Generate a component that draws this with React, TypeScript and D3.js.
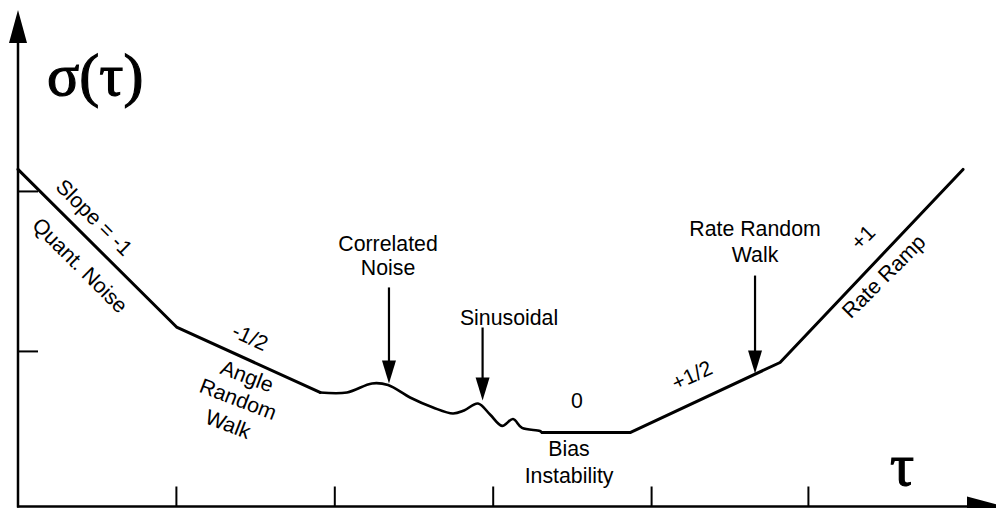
import React from "react";
import * as d3 from "d3";

// Allan deviation sketch, units = decades of tau (x) and sigma (y)
const leftSegment: [number, number][] = [
  [0, 2.128],
  [1.001, 1.133],
  [1.907, 0.72],
];
const waveSegment: [number, number][] = [
  [1.907, 0.72],
  [2.077, 0.72],
  [2.235, 0.777],
  [2.336, 0.767],
  [2.475, 0.688],
  [2.62, 0.625],
  [2.746, 0.587],
  [2.816, 0.606],
  [2.904, 0.65],
  [2.98, 0.581],
  [3.056, 0.509],
  [3.125, 0.552],
  [3.182, 0.496],
  [3.295, 0.477],
  [3.308, 0.467],
];
const rightSegment: [number, number][] = [
  [3.308, 0.467],
  [3.864, 0.467],
  [4.811, 0.909],
  [5.966, 2.128],
];
const xTicks = [1, 2, 3, 4, 4.99];
const yTicks = [0.979, 1.989];

// annotation arrows: x, top of shaft, tip
const arrows = [
  { x: 2.342, top: 1.383, tip: 0.777 },
  { x: 2.933, top: 1.13, tip: 0.669 },
  { x: 4.653, top: 1.458, tip: 0.84 },
];

// labels: text, centre (x,y in units), rotation in degrees
const labels = [
  { t: "Slope = -1", x: 0.48, y: 1.824, r: 45 },
  { t: "Quant. Noise", x: 0.391, y: 1.521, r: 45 },
  { t: "-1/2", x: 1.465, y: 1.067, r: 25 },
  { t: "Angle", x: 1.446, y: 0.821, r: 21 },
  { t: "Random", x: 1.389, y: 0.676, r: 21 },
  { t: "Walk", x: 1.326, y: 0.518, r: 21 },
  { t: "Correlated", x: 2.336, y: 1.66, r: 0 },
  { t: "Noise", x: 2.336, y: 1.503, r: 0 },
  { t: "Sinusoidal", x: 3.1, y: 1.193, r: 0 },
  { t: "0", x: 3.529, y: 0.669, r: 0 },
  { t: "Bias", x: 3.479, y: 0.360, r: 0 },
  { t: "Instability", x: 3.479, y: 0.19, r: 0 },
  { t: "+1/2", x: 4.255, y: 0.827, r: -25 },
  { t: "Rate Random", x: 4.653, y: 1.755, r: 0 },
  { t: "Walk", x: 4.653, y: 1.585, r: 0 },
  { t: "+1", x: 5.335, y: 1.698, r: -45 },
  { t: "Rate Ramp", x: 5.467, y: 1.452, r: -45 },
];

const W = 996;
const H = 508;

export default function App() {
  const x = d3.scaleLinear().domain([0, 6]).range([18, 18 + 6 * 158.4]);
  const y = d3.scaleLinear().domain([0, 3]).range([506.5, 506.5 - 3 * 158.4]);
  const line = d3
    .line<[number, number]>()
    .x((d) => x(d[0]))
    .y((d) => y(d[1]));
  const smooth = d3
    .line<[number, number]>()
    .x((d) => x(d[0]))
    .y((d) => y(d[1]))
    .curve(d3.curveCatmullRom.alpha(0.5));

  const x0 = x(0);
  const y0 = y(0);

  return (
    <svg
      width={W}
      height={H}
      style={{ position: "absolute", left: 0, top: 0, background: "#fff" }}
    >
      {/* axes */}
      <line x1={x0} y1={y0 + 1} x2={x0} y2={30} stroke="#000" strokeWidth={2.5} />
      <polygon points={`${x0},10 ${x0 - 9},43 ${x0 + 9},43`} fill="#000" />
      <line x1={x0 - 1} y1={y0} x2={975} y2={y0} stroke="#000" strokeWidth={2.5} />
      <polygon points={`1004,${y0} 967,${y0 - 10} 967,${y0 + 10}`} fill="#000" />
      {xTicks.map((t, i) => (
        <line key={"xt" + i} x1={x(t)} x2={x(t)} y1={y0} y2={y0 - 20} stroke="#000" strokeWidth={2} />
      ))}
      {yTicks.map((t, i) => (
        <line key={"yt" + i} x1={x0} x2={x0 + 20} y1={y(t)} y2={y(t)} stroke="#000" strokeWidth={2} />
      ))}

      {/* curve */}
      <g fill="none" stroke="#000" strokeWidth={3} strokeLinejoin="round" strokeLinecap="round">
        <path d={line(leftSegment) || ""} />
        <path d={smooth(waveSegment) || ""} strokeWidth={2.6} />
        <path d={line(rightSegment) || ""} />
      </g>

      {/* arrows */}
      {arrows.map((a, i) => {
        const ax = x(a.x);
        const ty = y(a.tip);
        return (
          <g key={"a" + i}>
            <line x1={ax} x2={ax} y1={y(a.top)} y2={ty - 20} stroke="#000" strokeWidth={2.2} />
            <polygon points={`${ax},${ty} ${ax - 7},${ty - 23} ${ax + 7},${ty - 23}`} fill="#000" />
          </g>
        );
      })}

      {/* labels */}
      <g fontFamily="'Liberation Sans', Arial, sans-serif" fontSize={21.3} fill="#000">
        {labels.map((l, i) => (
          <text
            key={"l" + i}
            x={x(l.x)}
            y={y(l.y)}
            textAnchor="middle"
            dominantBaseline="central"
            transform={`rotate(${l.r},${x(l.x)},${y(l.y)})`}
          >
            {l.t}
          </text>
        ))}
      </g>

      {/* axis titles */}
      <text
        x={47}
        y={95}
        fontFamily="'Liberation Serif', 'DejaVu Serif', serif"
        fontSize={60}
        stroke="#000"
        strokeWidth={1.2}
      >
        σ(τ)
      </text>
      <text
        x={890}
        y={485}
        fontFamily="'Liberation Serif', 'DejaVu Serif', serif"
        fontSize={60}
        stroke="#000"
        strokeWidth={1.2}
      >
        τ
      </text>
    </svg>
  );
}
